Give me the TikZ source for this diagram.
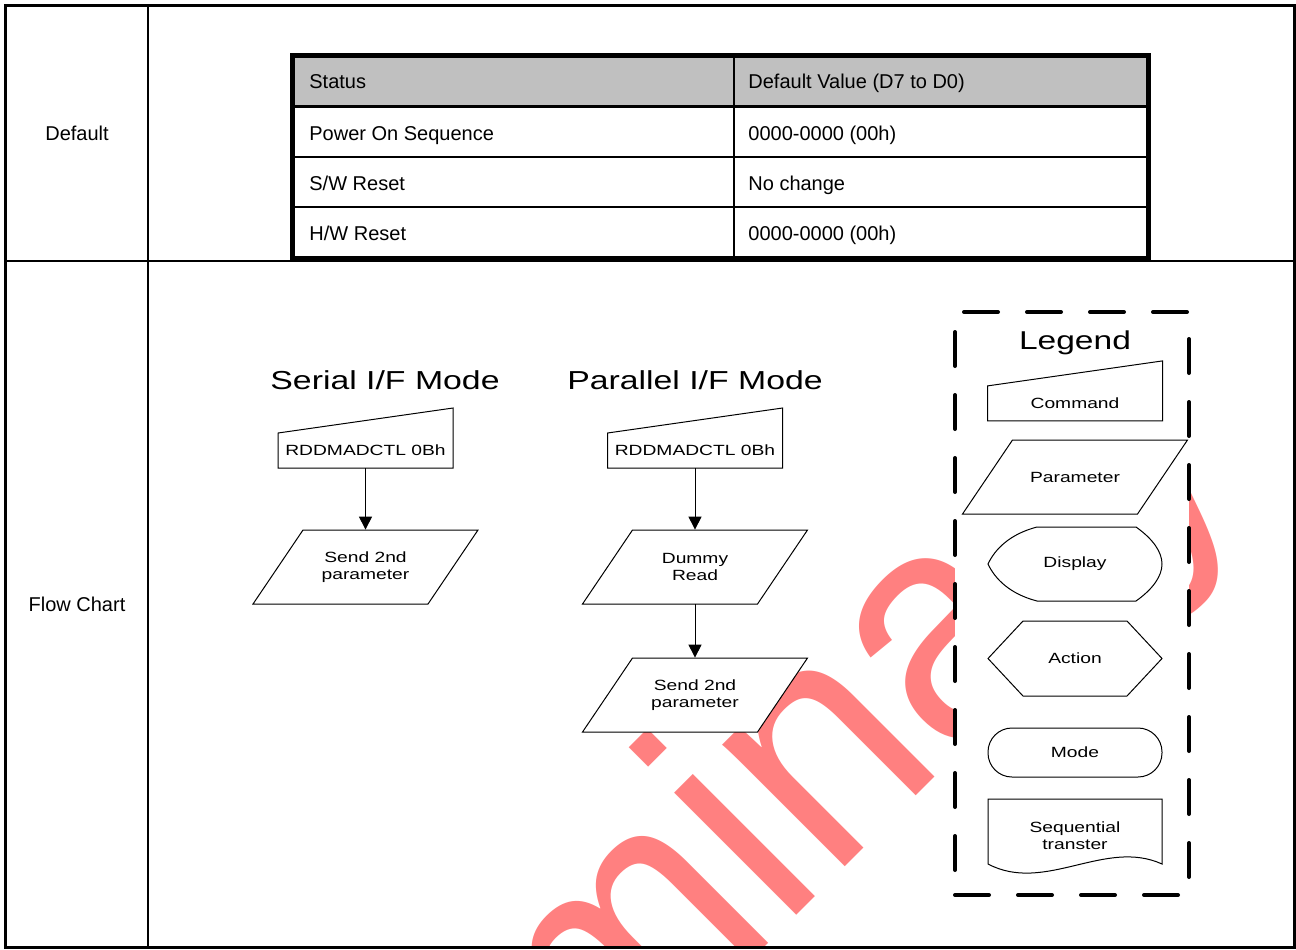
\documentclass[tikz,border=0pt]{standalone}
\usepackage{fontspec}
\setmainfont{Liberation Sans}
\newfontfamily\flowfont[FakeStretch=1.3]{Liberation Sans}
\newfontfamily\wmfont[FakeStretch=0.92]{Liberation Sans}
\usetikzlibrary{arrows.meta}
\pgfdeclarelayer{wmark}
\pgfdeclarelayer{outline}
\pgfsetlayers{wmark,outline,main}
\definecolor{wmred}{RGB}{255,128,128}
\definecolor{hdrgray}{RGB}{192,192,192}

\begin{document}
\begin{tikzpicture}[x=0.5pt, y=-0.5pt,
  cell/.style={font=\fontsize{10}{12}\selectfont, inner sep=0pt},
  head/.style={font=\flowfont\fontsize{13}{15}\selectfont, inner sep=0pt, anchor=base},
  flow/.style={font=\flowfont\fontsize{7.4}{8.5}\selectfont, align=center, inner sep=0pt},
  outl/.style={append after command={\pgfextra{\begin{pgfonlayer}{outline}
      \draw[fill=white, line width=0.5pt, shift={(\tikzlastnode.center)}] #1;
    \end{pgfonlayer}}}},
  cmdbox/.style={flow, minimum width=87.5pt, minimum height=17.5pt,
    outl={(-87.5,-17.5) -- (87.5,-42.5) -- (87.5,17.5) -- (-87.5,17.5) -- cycle}},
  paranode/.style={flow, minimum width=87.5pt, minimum height=37pt,
    outl={(-62.5,-37) -- (112.5,-37) -- (62.5,37) -- (-112.5,37) -- cycle}},
  dispnode/.style={flow, minimum width=87pt, minimum height=37pt,
    outl={(-38,-37) -- (61,-37) .. controls (78,-25) and (87,-12) .. (87,0)
      .. controls (87,12) and (78,25) .. (61,37) -- (-38,37)
      .. controls (-65,30) and (-80,15) .. (-87,0)
      .. controls (-80,-15) and (-65,-30) .. (-38,-37) -- cycle}},
  actnode/.style={flow, minimum width=87pt, minimum height=37.5pt,
    outl={(-87,0) -- (-52,-37.5) -- (52,-37.5) -- (87,0) -- (52,37.5) -- (-52,37.5) -- cycle}},
  seqnode/.style={flow, minimum width=87pt, minimum height=37pt,
    outl={(-87,-37) -- (87,-37) -- (87,28) .. controls (30,2) and (-30,58) .. (-87,28) -- cycle}},
  modenode/.style={flow, draw, fill=white, line width=0.5pt, rounded corners=12pt,
    minimum width=87pt, minimum height=24.5pt},
  legframe/.style={draw, fill=white, line width=2pt, dash pattern=on 17pt off 14.5pt,
    line cap=round, minimum width=117pt, minimum height=291.5pt, inner sep=0pt},
  wmtext/.style={font=\wmfont\fontsize{163.5}{163.5}\selectfont, text=wmred, rotate=45,
    anchor=base west, inner sep=0pt},
  arr/.style={-{Triangle[length=6.5pt,width=6.5pt]}, line width=0.5pt}
]
\useasboundingbox (0,0) rectangle (1296,949);

% watermark
\begin{pgfonlayer}{wmark}
  \begin{scope}
    \clip (148,261) rectangle (1294,947);
    \node[wmtext] (wm) at (180,1532) {Preliminary};
  \end{scope}
\end{pgfonlayer}

% outer table
\draw[line width=1.5pt] (5,5) rectangle (1294,947);
\draw[line width=1.2pt] (148,5) -- (148,947) (5,261) -- (1294,261);
\node[cell, anchor=base] (deflbl) at (77,140) {Default};
\node[cell, anchor=base] (flowlbl) at (77,611) {Flow Chart};

% default values
\fill[hdrgray] (292.5,55) rectangle (1148.7,106.5);
\draw[line width=1.5pt] (292.5,106.5) -- (1148.7,106.5);
\draw[line width=1pt] (292.5,157) -- (1148.7,157) (292.5,207) -- (1148.7,207)
  (734,55) -- (734,258);
\draw[line width=2.5pt] (292.5,55) rectangle (1148.7,258);
\node[cell, anchor=base west] (hstat) at (309,88) {Status};
\node[cell, anchor=base west] (hdef) at (748,88) {Default Value (D7 to D0)};
\node[cell, anchor=base west] (pwr) at (309,140) {Power On Sequence};
\node[cell, anchor=base west] (pwrval) at (748,140) {0000-0000 (00h)};
\node[cell, anchor=base west] (swr) at (309,190) {S/W Reset};
\node[cell, anchor=base west] (swrval) at (748,190) {No change};
\node[cell, anchor=base west] (hwr) at (309,240) {H/W Reset};
\node[cell, anchor=base west] (hwrval) at (748,240) {0000-0000 (00h)};

% serial
\node[head] (sermode) at (385,389) {Serial I/F Mode};
\node[cmdbox] (scmd) at (365.5,450.5) {RDDMADCTL 0Bh};
\node[paranode] (ssend) at (365.5,567) {Send 2nd\\parameter};
\draw[arr] (scmd) -- (ssend);

% parallel
\node[head] (parmode) at (695,389) {Parallel I/F Mode};
\node[cmdbox] (pcmd) at (695,450.5) {RDDMADCTL 0Bh};
\node[paranode] (pdummy) at (695,567) {Dummy\\Read};
\node[paranode] (psend) at (695,695) {Send 2nd\\parameter};
\draw[arr] (pcmd) -- (pdummy);
\draw[arr] (pdummy) -- (psend);

% legend
\begin{pgfonlayer}{outline}
  \node[legframe] (legbox) at (1072,603.5) {};
\end{pgfonlayer}
\node[font=\flowfont\fontsize{12.9}{15}\selectfont, anchor=base, inner sep=0pt] (legtitle)
  at (1075,349) {Legend};
\node[cmdbox] (lcmd) at (1075,403.4) {Command};
\node[paranode] (lpar) at (1075,477) {Parameter};
\node[dispnode] (ldisp) at (1075,564) {Display};
\node[actnode] (lact) at (1075,658.5) {Action};
\node[modenode] (lmode) at (1075,752.5) {Mode};
\node[seqnode] (lseq) at (1075,836) {Sequential\\transter};
\end{tikzpicture}
\end{document}
